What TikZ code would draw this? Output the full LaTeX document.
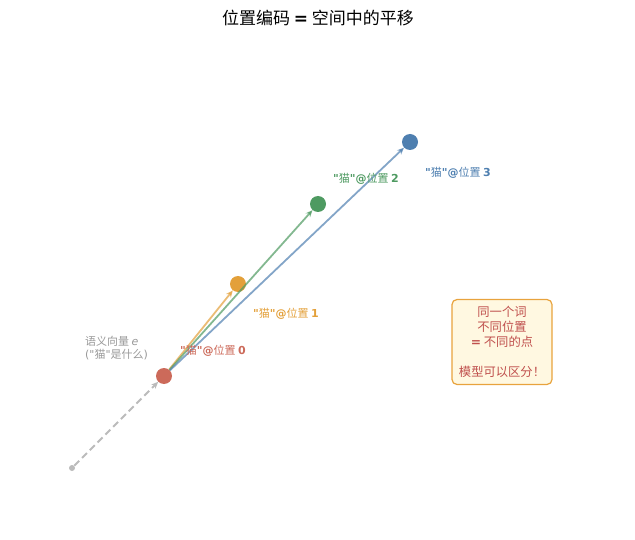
\documentclass[tikz,border=0pt]{standalone}
\usepackage{fontspec}
\setmainfont{Noto Sans CJK SC}
\newfontfamily\cjkfont{Noto Sans CJK SC}
\newfontfamily\latinfont{DejaVu Sans}
\usetikzlibrary{arrows.meta, positioning}

\definecolor{posred}{HTML}{CC6A5A}
\definecolor{posorange}{HTML}{E3A03A}
\definecolor{posgreen}{HTML}{4E9A61}
\definecolor{posblue}{HTML}{4E7FB0}
\definecolor{semgray}{HTML}{BBBBBB}
\definecolor{labgray}{HTML}{999999}
\definecolor{notefill}{HTML}{FFF8E1}
\definecolor{noteline}{HTML}{E8A33D}
\definecolor{notetext}{HTML}{C0504D}

\newcommand{\lat}[1]{{\latinfont\bfseries #1}}
\newcommand{\catlab}[1]{\lat{"}猫\lat{"@}位置 \lat{#1}}

\begin{document}
\begin{tikzpicture}[x=1pt, y=-1pt,
  dot/.style={circle, inner sep=0pt, minimum size=16pt},
  shift arrow/.style={line width=1.8pt, -{Stealth[length=7pt, width=6pt]}, opacity=0.7},
  catlabel/.style={anchor=west, inner sep=0pt, font=\cjkfont\fontsize{11}{13.5}\selectfont}]
  \useasboundingbox (0,0) rectangle (635,540);

  % Titel
  \node (title) at (318,18) {\cjkfont\fontsize{17}{20}\selectfont 位置编码 \lat{=} 空间中的平移};

  % Ursprung und Punkte
  \node[circle, fill=semgray, inner sep=0pt, minimum size=6pt] (o) at (72,468) {};
  \node[dot, fill=posred] (e) at (164,376) {};
  \node[dot, fill=posorange] (p1) at (238,284) {};
  \node[dot, fill=posgreen] (p2) at (318,204) {};
  \node[dot, fill=posblue] (p3) at (410,142) {};

  % Semantischer Vektor (gestrichelt)
  \draw[semgray, line width=2pt, dash pattern=on 7pt off 4pt, -{Stealth[length=7pt, width=6pt]}] (o) -- (e);

  % Verschiebungen durch die Position
  \draw[shift arrow, posorange] (e) -- (p1);
  \draw[shift arrow, posgreen] (e) -- (p2);
  \draw[shift arrow, posblue] (e) -- (p3);

  % Beschriftungen
  \node[catlabel, labgray, align=left] (sem) at (85,348)
    {语义向量 {\latinfont\itshape e}\\{\latinfont("}猫{\latinfont"}是什么{\latinfont)}};
  \node[catlabel, posred] (l0) at (180,351) {\catlab{0}};
  \node[catlabel, posorange] (l1) at (253,314) {\catlab{1}};
  \node[catlabel, posgreen] (l2) at (333,179) {\catlab{2}};
  \node[catlabel, posblue] (l3) at (425,173) {\catlab{3}};

  % Hinweis
  \node[draw=noteline, fill=notefill, line width=1.2pt, rounded corners=5pt,
        minimum width=100pt, minimum height=85pt, align=center, text=notetext,
        font=\cjkfont\fontsize{12.3}{15}\selectfont] (note) at (502,342)
        {同一个词\\不同位置\\\lat{=} 不同的点\\[15pt]模型可以区分！};

\end{tikzpicture}
\end{document}
